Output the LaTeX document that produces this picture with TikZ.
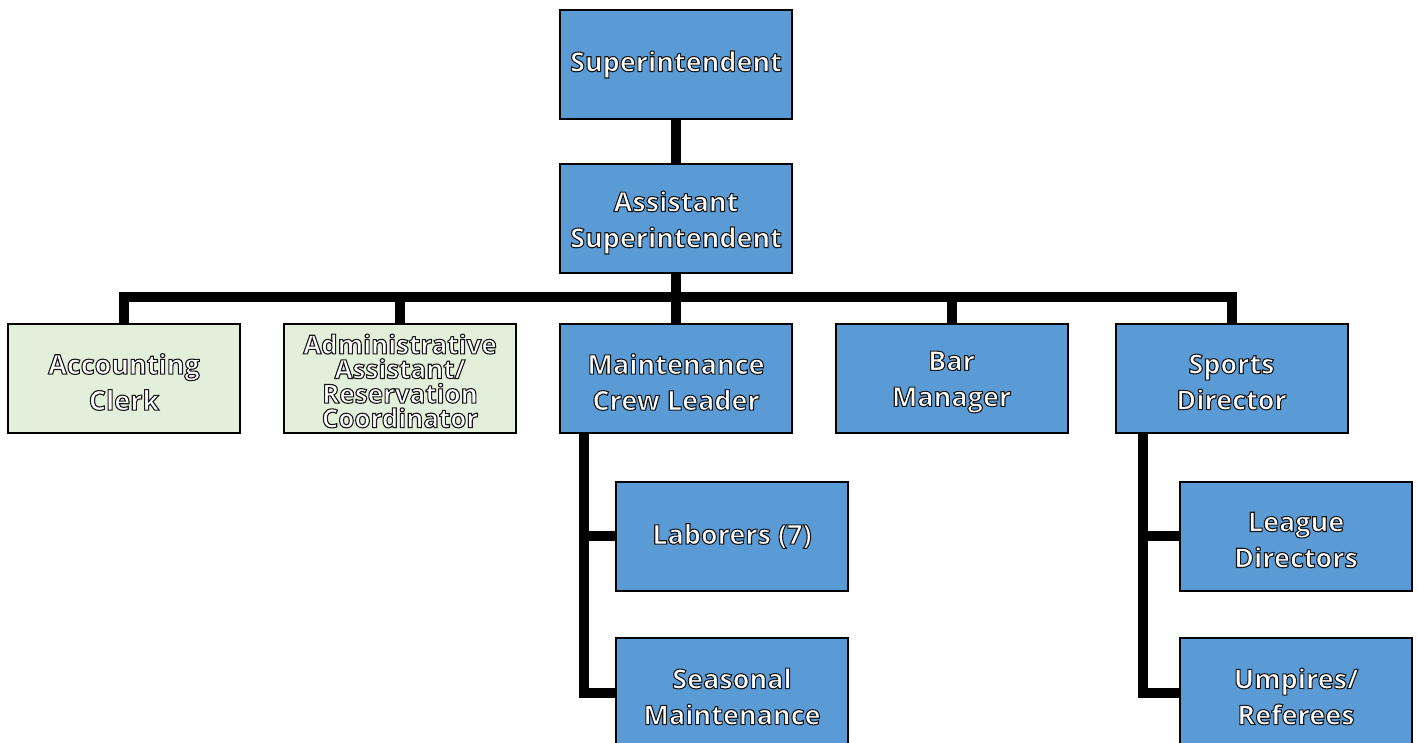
\documentclass[tikz,border=0pt]{standalone}
\usepackage{fontspec}
\setmainfont{Open Sans}
\definecolor{boxblue}{HTML}{5B9BD5}
\definecolor{boxgreen}{HTML}{E2EFDA}
\newcommand\outl[1]{\special{pdf:literal direct 0.1 G 1.1 w 2 Tr}#1\special{pdf:literal direct 0 Tr}}
\newcommand\ol[1]{\outl{#1}}
\newcommand\om[1]{\raisebox{-4pt}[\height][\depth]{\outl{#1}}}
\newcommand\oa[1]{\raisebox{-3pt}[\height][\depth]{\outl{#1}}}
\tikzset{
  orgbox/.style={draw=black, line width=2pt, fill=boxblue, text=white,
    minimum width=232pt, minimum height=109pt, inner sep=0pt, align=center,
    font=\bfseries\fontsize{27}{36}\selectfont},
  staffbox/.style={orgbox, fill=boxgreen},
  tightbox/.style={staffbox, font=\bfseries\fontsize{26}{24.6}\selectfont},
  conn/.style={line width=10pt, draw=black}
}
\begin{document}
\begin{tikzpicture}[x=1pt, y=-1pt]
\clip (0,0) rectangle (1418,743);
\node[orgbox] (sup) at (676,64.5) {\ol{Superintendent}};
\node[orgbox] (asst) at (676,218.5) {\om{Assistant}\\\om{Superintendent}};
\node[staffbox] (acc) at (124,378) {\om{Accounting}\\\om{Clerk}};
\node[tightbox] (adm) at (400,378) {\oa{Administrative}\\\oa{Assistant/}\\\oa{Reservation}\\\oa{Coordinator}};
\node[orgbox] (mcl) at (676,378) {\om{Maintenance}\\\om{Crew Leader}};
\node[orgbox] (bm) at (951.5,378) {\om{Bar}\\\om{Manager}};
\node[orgbox] (sd) at (1231.5,378) {\om{Sports}\\\om{Director}};
\node[orgbox] (lab) at (732,536) {\ol{Laborers (7)}};
\node[orgbox] (sea) at (732,692.5) {\om{Seasonal}\\\om{Maintenance}};
\node[orgbox] (lg) at (1296,536) {\om{League}\\\om{Directors}};
\node[orgbox] (ump) at (1296,692.5) {\om{Umpires/}\\\om{Referees}};
\coordinate (bar) at (676,297);
\coordinate (mspine) at ([xshift=25pt]mcl.south west);
\coordinate (sspine) at ([xshift=28pt]sd.south west);
\draw[conn] (sup.south) -- (asst.north);
\draw[conn] (asst.south) -- (bar);
\draw[conn] (acc.north) |- (sd.north |- bar) -- (sd.north);
\draw[conn] (adm.north) -- (adm.north |- bar);
\draw[conn] (mcl.north) -- (mcl.north |- bar);
\draw[conn] (bm.north) -- (bm.north |- bar);
\draw[conn] (mspine) |- (sea.west);
\draw[conn] (mspine |- lab.west) -- (lab.west);
\draw[conn] (sspine) |- (ump.west);
\draw[conn] (sspine |- lg.west) -- (lg.west);
\end{tikzpicture}
\end{document}
